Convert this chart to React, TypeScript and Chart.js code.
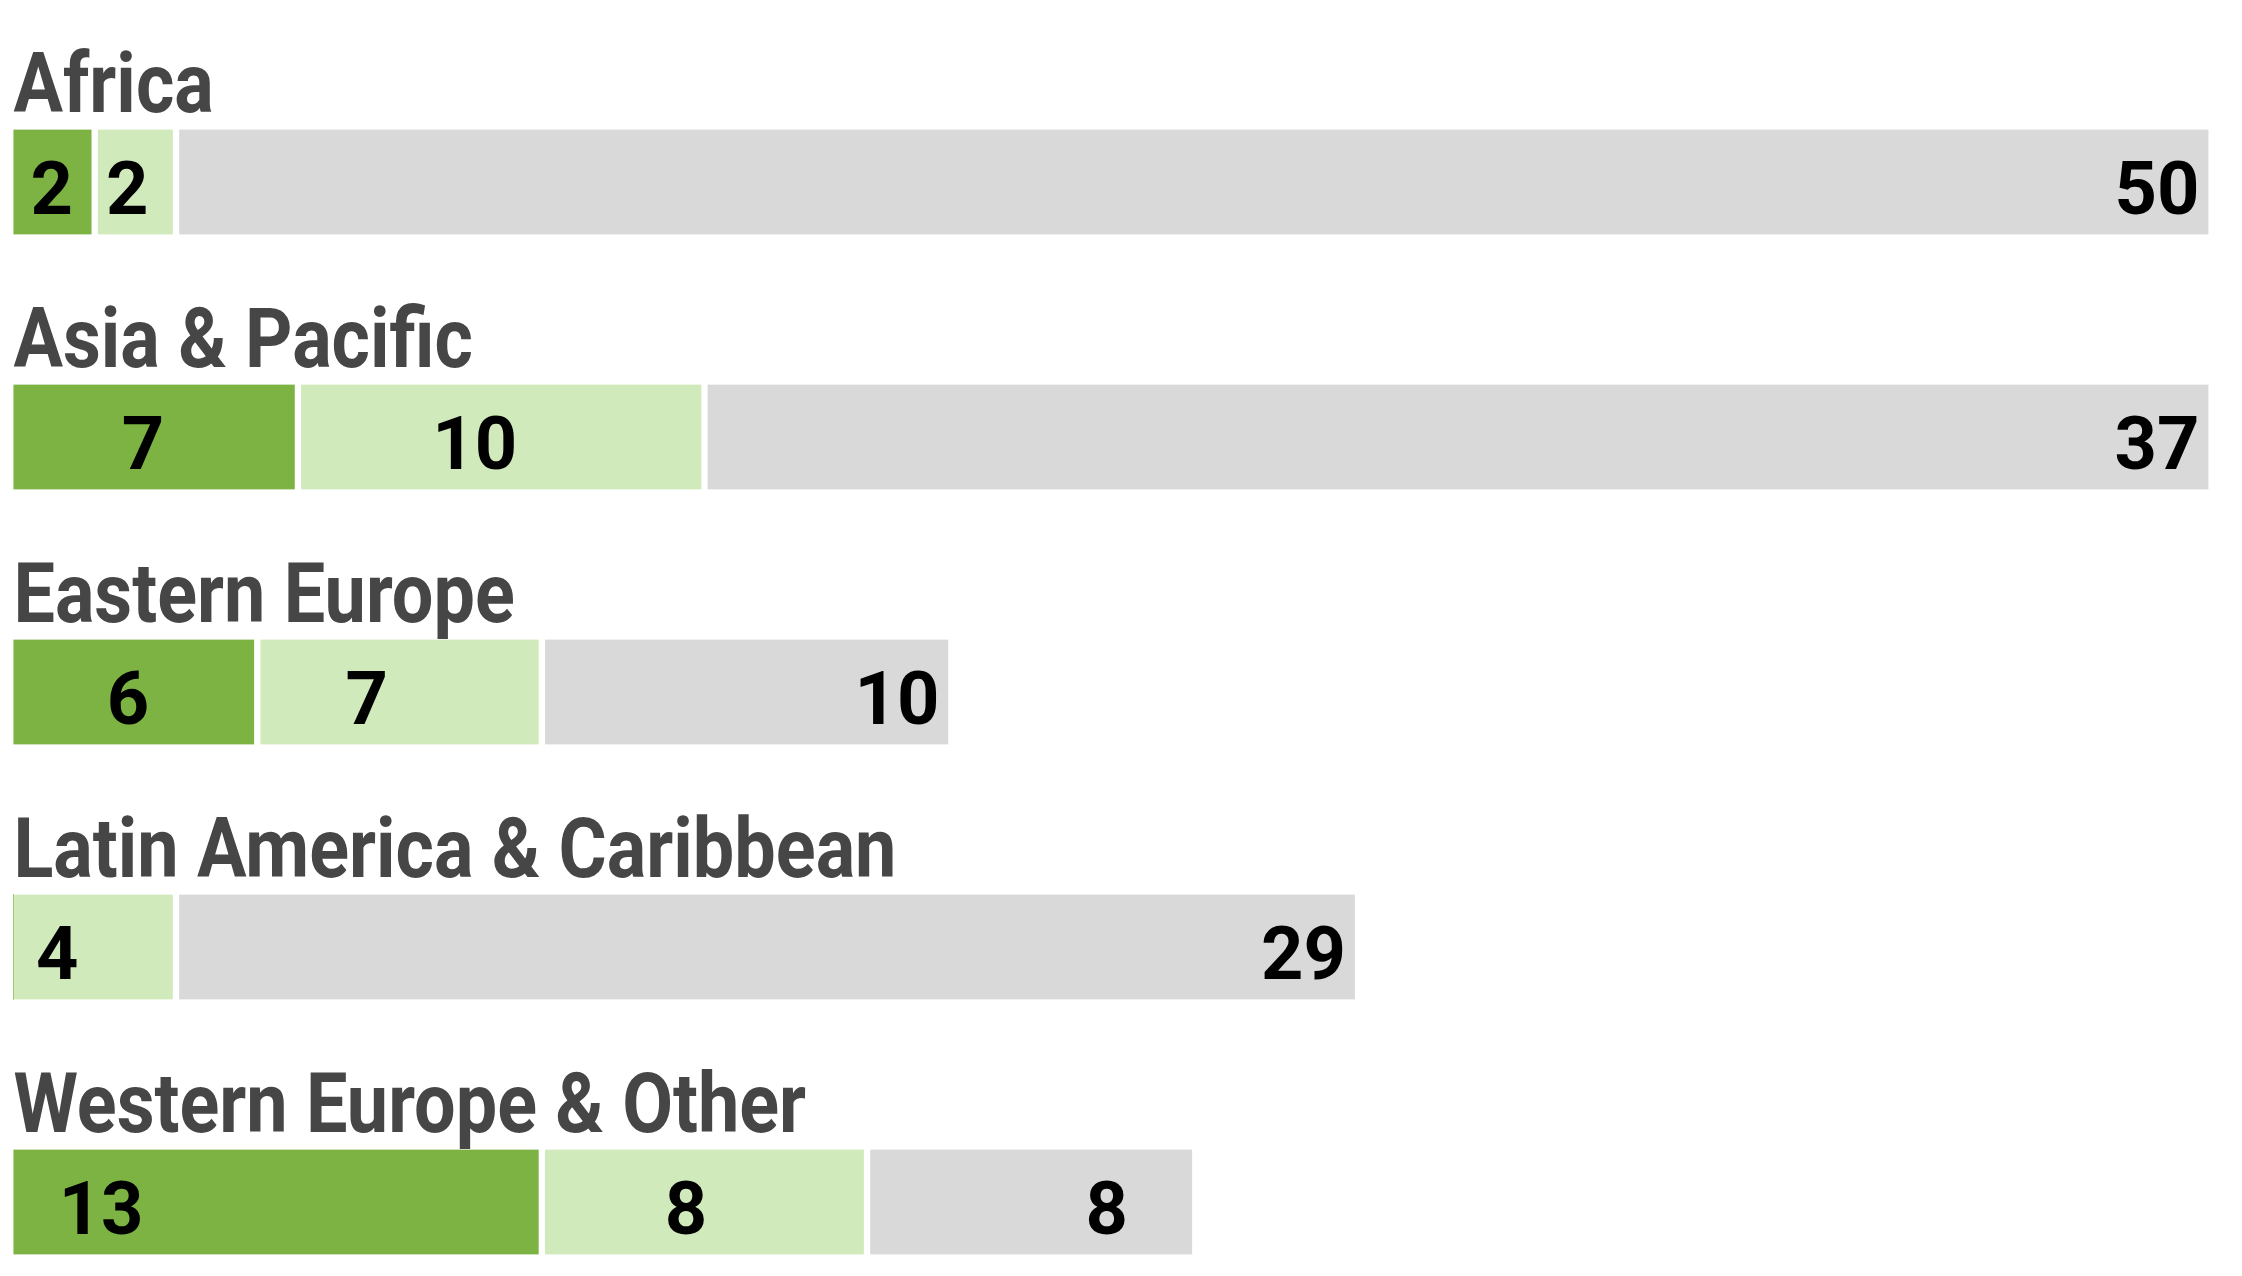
import React, { useEffect, useRef } from "react";
import { Chart, registerables } from "chart.js";

Chart.register(...registerables);

// ---- data ----
const regions = [
  "Africa",
  "Asia & Pacific",
  "Eastern Europe",
  "Latin America & Caribbean",
  "Western Europe & Other",
];
const darkValues = [2, 7, 6, 0, 13];
const lightValues = [2, 10, 7, 4, 8];
const grayValues = [50, 37, 10, 29, 8];
const xMax = 54;

// label placement inside each segment: fraction of the segment width for the
// label centre; null = right-aligned at the segment end
const darkLabelAt: (number | null)[] = [0.47, 0.455, 0.47, 0.5, 0.166];
const lightLabelAt: (number | null)[] = [0.4, 0.435, 0.385, 0.27, 0.443];
const grayLabelAt: (number | null)[] = [null, null, null, null, 0.737];

const series = [darkValues, lightValues, grayValues];
const placements = [darkLabelAt, lightLabelAt, grayLabelAt];

const SEP = 3.5;

function borderFor(d: number) {
  return (ctx: any) => {
    const i = ctx.dataIndex;
    const before = series.slice(0, d).some((s) => s[i] > 0);
    const after = series.slice(d + 1).some((s) => s[i] > 0);
    return { top: 0, bottom: 0, left: before ? SEP : 0, right: after ? SEP : 0 };
  };
}

const overlay = {
  id: "overlay",
  afterDatasetsDraw(chart: any) {
    const { ctx, scales } = chart;
    const xs = scales.x;
    const ys = scales.y;
    ctx.save();
    regions.forEach((name, i) => {
      const yc = ys.getPixelForValue(i);
      const x0 = xs.getPixelForValue(0);
      ctx.save();
      ctx.font = "bold 84px Roboto";
      ctx.fillStyle = "#464646";
      ctx.textAlign = "left";
      ctx.textBaseline = "alphabetic";
      ctx.translate(x0, yc - 70);
      ctx.scale(0.878, 1);
      ctx.fillText(name, 0, 0);
      ctx.restore();

      let start = 0;
      series.forEach((s, d) => {
        const v = s[i];
        const end = start + v;
        if (v > 0) {
          const px0 = xs.getPixelForValue(start);
          const px1 = xs.getPixelForValue(end);
          const at = placements[d][i];
          ctx.font = "bold 74px Roboto";
          ctx.fillStyle = "#000000";
          ctx.textBaseline = "alphabetic";
          if (at === null) {
            ctx.textAlign = "right";
            ctx.fillText(String(v), px1 - 9, yc + 32);
          } else {
            ctx.textAlign = "center";
            ctx.fillText(String(v), px0 + (px1 - px0) * at, yc + 32);
          }
        }
        start = end;
      });
    });
    ctx.restore();
  },
};

export default function App() {
  const ref = useRef<HTMLCanvasElement | null>(null);
  useEffect(() => {
    if (!ref.current) return;
    const colors = ["#7cb342", "#d1eabc", "#d9d9d9"];
    const chart = new Chart(ref.current, {
      type: "bar",
      data: {
        labels: regions,
        datasets: series.map((s, d) => ({
          label: ["dark", "light", "gray"][d],
          data: s,
          backgroundColor: colors[d],
          borderColor: "#ffffff",
          borderWidth: borderFor(d) as any,
          borderSkipped: false,
          barThickness: 105,
          clip: false as any,
        })),
      },
      options: {
        indexAxis: "y",
        animation: false,
        responsive: true,
        maintainAspectRatio: false,
        events: [],
        layout: { padding: { left: 5.4, right: 25.5, top: 174, bottom: 66 } },
        plugins: { legend: { display: false }, tooltip: { enabled: false } },
        scales: {
          x: { stacked: true, min: 0, max: xMax, display: false },
          y: { stacked: true, offset: false, display: false },
        },
      },
      plugins: [overlay],
    });
    return () => chart.destroy();
  }, []);
  return (
    <div style={{ position: "relative", width: 2226, height: 1260 }}>
      <canvas ref={ref} />
    </div>
  );
}
